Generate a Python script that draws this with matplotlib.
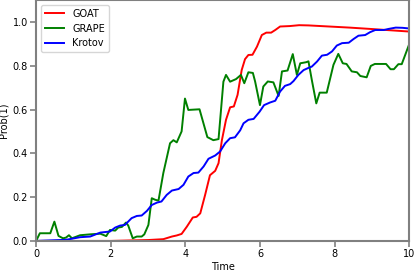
import numpy as np
import matplotlib
matplotlib.use("Agg")
import matplotlib.pyplot as plt

# GOAT (red)
t_goat = [0.0, 1.0, 2.0, 3.0, 3.41, 3.64, 3.77, 3.9, 4.04, 4.2, 4.3, 4.4, 4.53, 4.66,
          4.8, 4.89, 4.98, 5.09, 5.2, 5.3, 5.4, 5.51, 5.6, 5.69, 5.8, 5.92, 6.05,
          6.17, 6.3, 6.41, 6.54, 6.8, 7.05, 7.3, 8.4, 9.04, 10.0]
p_goat = [0.0, 0.0, 0.0, 0.004, 0.008, 0.02, 0.025, 0.032, 0.065, 0.107, 0.11, 0.126,
          0.21, 0.30, 0.32, 0.355, 0.46, 0.553, 0.61, 0.614, 0.667, 0.78, 0.83, 0.849,
          0.85, 0.887, 0.94, 0.951, 0.951, 0.963, 0.979, 0.981, 0.985, 0.984, 0.974,
          0.967, 0.956]

# GRAPE (green)
t_grape = [0.0, 0.1, 0.38, 0.49, 0.6, 0.72, 0.8, 0.88, 0.96, 1.18, 1.45, 1.72, 1.88,
           1.98, 2.12, 2.2, 2.3, 2.41, 2.47, 2.59, 2.7, 2.83, 2.9, 3.01, 3.1, 3.19,
           3.28, 3.41, 3.59, 3.68, 3.77, 3.9, 3.99, 4.08, 4.38, 4.59, 4.75, 4.89,
           5.02, 5.09, 5.2, 5.36, 5.49, 5.58, 5.69, 5.81, 5.87, 6.0, 6.09, 6.21,
           6.36, 6.5, 6.59, 6.74, 6.88, 6.99, 7.08, 7.24, 7.3, 7.39, 7.51, 7.6,
           7.79, 7.97, 8.1, 8.22, 8.32, 8.46, 8.6, 8.69, 8.86, 8.97, 9.08, 9.38,
           9.5, 9.59, 9.71, 9.8, 10.0]
p_grape = [0.0, 0.035, 0.035, 0.088, 0.023, 0.012, 0.015, 0.026, 0.012, 0.026, 0.03,
           0.033, 0.022, 0.05, 0.047, 0.061, 0.064, 0.084, 0.07, 0.012, 0.02, 0.02,
           0.03, 0.073, 0.195, 0.188, 0.184, 0.31, 0.446, 0.46, 0.45, 0.5, 0.65,
           0.598, 0.601, 0.474, 0.46, 0.465, 0.727, 0.758, 0.727, 0.739, 0.758, 0.72,
           0.77, 0.767, 0.728, 0.62, 0.705, 0.728, 0.724, 0.662, 0.774, 0.778, 0.853,
           0.758, 0.811, 0.816, 0.82, 0.735, 0.628, 0.677, 0.677, 0.804, 0.854,
           0.811, 0.808, 0.774, 0.77, 0.753, 0.747, 0.799, 0.808, 0.808, 0.784,
           0.784, 0.807, 0.807, 0.898]

# Krotov (blue)
t_krotov = [0.0, 0.8, 1.18, 1.45, 1.72, 1.98, 2.12, 2.25, 2.38, 2.56, 2.7, 2.83, 2.97,
            3.1, 3.24, 3.36, 3.5, 3.64, 3.82, 3.95, 4.08, 4.22, 4.35, 4.49, 4.62,
            4.8, 4.93, 5.07, 5.2, 5.33, 5.47, 5.56, 5.69, 5.83, 5.99, 6.11, 6.27,
            6.41, 6.54, 6.67, 6.81, 6.9, 7.03, 7.17, 7.3, 7.39, 7.53, 7.66, 7.8,
            7.93, 8.06, 8.2, 8.38, 8.51, 8.64, 8.82, 8.95, 9.09, 9.32, 9.45, 9.64,
            9.82, 10.0]
p_krotov = [0.0, 0.005, 0.017, 0.02, 0.038, 0.043, 0.061, 0.07, 0.073, 0.104, 0.114,
            0.116, 0.137, 0.164, 0.175, 0.18, 0.21, 0.23, 0.237, 0.256, 0.294, 0.31,
            0.312, 0.34, 0.375, 0.39, 0.408, 0.446, 0.469, 0.473, 0.505, 0.537,
            0.553, 0.557, 0.59, 0.62, 0.632, 0.64, 0.682, 0.708, 0.716, 0.73, 0.758,
            0.78, 0.79, 0.796, 0.819, 0.846, 0.85, 0.865, 0.892, 0.903, 0.905, 0.922,
            0.937, 0.94, 0.953, 0.963, 0.963, 0.968, 0.974, 0.973, 0.97]

plt.rcParams['font.size'] = 7

fig = plt.figure(figsize=(4.15, 2.71), dpi=100)
ax = fig.add_axes([0.087, 0.111, 0.899, 0.889])

ax.plot(t_goat, p_goat, color='red', lw=1.4, label='GOAT')
ax.plot(t_grape, p_grape, color='green', lw=1.4, label='GRAPE')
ax.plot(t_krotov, p_krotov, color='blue', lw=1.4, label='Krotov')

ax.set_xlim(0, 10)
ax.set_ylim(0, 1.1)
ax.set_yticks([0.0, 0.2, 0.4, 0.6, 0.8, 1.0])
ax.set_xlabel('Time', labelpad=2)
ax.set_ylabel('Prob(1)', labelpad=3)

for s in ax.spines.values():
    s.set_color('#808080')
    s.set_linewidth(1.5)
ax.tick_params(color='#808080', width=1.2, length=4, pad=2)

ax.legend(loc='upper left', fontsize=7, handlelength=2.0)

fig.savefig('out.png', dpi=100)
